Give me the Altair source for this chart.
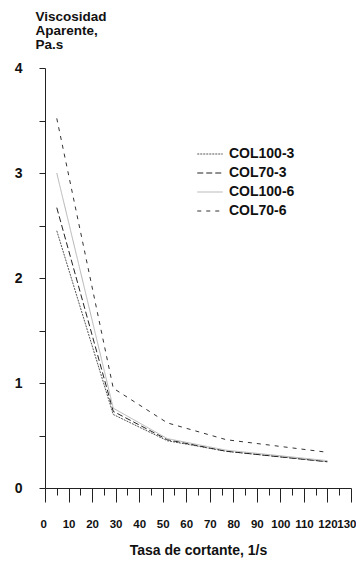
import altair as alt
import pandas as pd

shear_rate = [5, 29, 52, 77, 120]
series_names = ["COL100-3", "COL70-3", "COL100-6", "COL70-6"]
col100_3 = [2.45, 0.70, 0.45, 0.35, 0.25]
col70_3 = [2.67, 0.73, 0.46, 0.35, 0.25]
col100_6 = [3.00, 0.76, 0.47, 0.36, 0.26]
col70_6 = [3.52, 0.95, 0.62, 0.46, 0.34]

x_ticks = list(range(0, 131, 5))
y_ticks = [i / 2 for i in range(0, 9)]

rows = []
for name, vals in zip(series_names, [col100_3, col70_3, col100_6, col70_6]):
    for i, (x, y) in enumerate(zip(shear_rate, vals)):
        rows.append({"serie": name, "x": x, "y": y, "order": i})
df = pd.DataFrame(rows)

FONT = "Liberation Sans"
colors = ["#555555", "#222222", "#b5b5b5", "#333333"]
dashes = [[2, 1], [6, 3], [1, 0], [4, 5]]

legend = alt.Legend(
    title=None, orient="none", legendX=156, legendY=77, padding=0,
    symbolType="M-1.5,0H1.5", symbolSize=289, symbolStrokeWidth=1,
    labelFont=FONT, labelFontSize=14, labelFontWeight="bold", labelColor="#111",
    labelOffset=10, rowPadding=3,
)

chart = alt.Chart(df).mark_line(strokeWidth=1).encode(
    x=alt.X("x:Q", scale=alt.Scale(domain=[0, 130], nice=False),
            axis=alt.Axis(
                values=x_ticks, title="Tasa de cortante, 1/s",
                labelExpr="datum.value % 10 === 0 ? format(datum.value, 'd') : ''",
                tickSize={"condition": {"test": "datum.value % 10 === 0", "value": 14}, "value": 7},
                labelPadding=16, titlePadding=14, grid=False, labelFontSize=11.5,
                labelFlush=True, labelFlushOffset=5, labelOverlap=False,
            )),
    y=alt.Y("y:Q", scale=alt.Scale(domain=[0, 4], nice=False),
            axis=alt.Axis(
                values=y_ticks, title=["Viscosidad", "Aparente,", "Pa.s"],
                labelExpr="datum.value % 1 === 0 ? format(datum.value, 'd') : ''",
                tickSize=6, labelPadding=17, grid=False,
                titleAngle=0, titleAlign="left", titleBaseline="top",
                titleX=-10, titleY=-59, titleLineHeight=14, titleFontSize=13.5,
                labelFlush=False, labelOverlap=False,
            )),
    color=alt.Color("serie:N", scale=alt.Scale(domain=series_names, range=colors), legend=legend),
    strokeDash=alt.StrokeDash("serie:N", scale=alt.Scale(domain=series_names, range=dashes), legend=legend),
    order="order:Q",
).properties(
    width=306, height=420,
    autosize=alt.AutoSizeParams(type="none"),
    padding={"left": 37, "top": 60, "right": 5, "bottom": 80},
).configure_view(stroke=None).configure_axis(
    domainColor="#222", tickColor="#222", domainWidth=1, tickWidth=1,
    labelFont=FONT, labelFontSize=14, labelFontWeight="bold", labelColor="#111",
    titleFont=FONT, titleFontSize=14, titleFontWeight="bold", titleColor="#111",
)

chart.save("out.html", embed_options={"renderer": "svg", "actions": False})
